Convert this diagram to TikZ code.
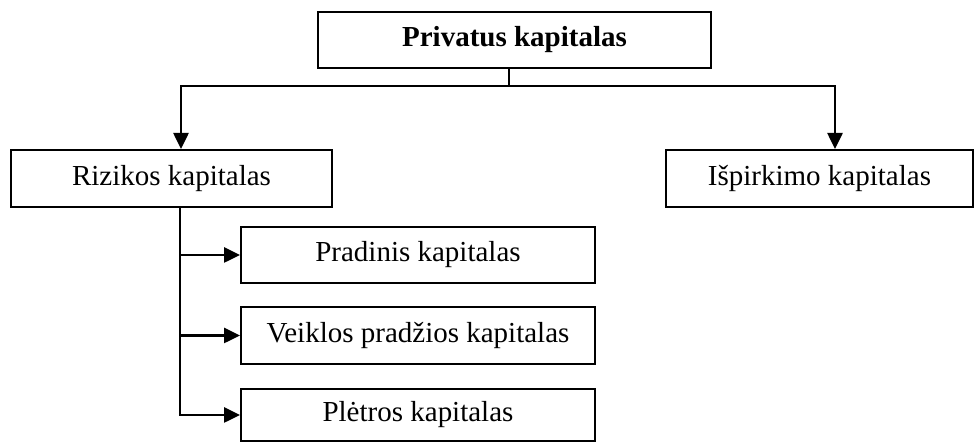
\documentclass[tikz,border=0pt]{standalone}
\usepackage{fontspec}
\setmainfont{Liberation Serif}
\usetikzlibrary{arrows.meta}

\tikzstyle{kbox}=[rectangle, draw, line width=1pt, inner sep=0pt, font=\fontsize{14.5}{17}\selectfont]
\tikzstyle{pointto}=[-{Triangle[length=8pt,width=7.5pt]}, line width=1.3pt]
\tikzstyle{branch}=[line width=1.3pt]

\begin{document}
\begin{tikzpicture}[x=0.5pt, y=-0.5pt]
\useasboundingbox (0,0) rectangle (976,442);
\node[kbox, minimum width=196.5pt, minimum height=28pt, font=\fontsize{14.5}{17}\selectfont\bfseries] (PK) at (514.5,40) {Privatus kapitalas};
\node[kbox, minimum width=160.5pt, minimum height=28.5pt] (RK) at (171.5,178.5) {Rizikos kapitalas};
\node[kbox, minimum width=153.5pt, minimum height=28.5pt] (IK) at (819.5,178.5) {Išpirkimo kapitalas};
\node[kbox, minimum width=177pt, minimum height=28pt]   (PR) at (418,255)   {Pradinis kapitalas};
\node[kbox, minimum width=177pt, minimum height=28.5pt] (VP) at (418,335.5) {Veiklos pradžios kapitalas};
\node[kbox, minimum width=177pt, minimum height=26pt]   (PL) at (418,415)   {Plėtros kapitalas};
% top fork
\coordinate (fork) at (509,86);
\draw[branch] (PK.south -| fork) -- (fork);
\draw[pointto] (fork) -| ([xshift=4.75pt]RK.north);
\draw[pointto] (fork) -| ([xshift=7.75pt]IK.north);
% rizikos kapitalas branches
\coordinate (trunk) at ([xshift=4.25pt]RK.south);
\draw[pointto] (trunk) |- (PR.west);
\draw[pointto] (trunk) |- (VP.west);
\draw[pointto] (trunk) |- (PL.west);
\end{tikzpicture}
\end{document}
